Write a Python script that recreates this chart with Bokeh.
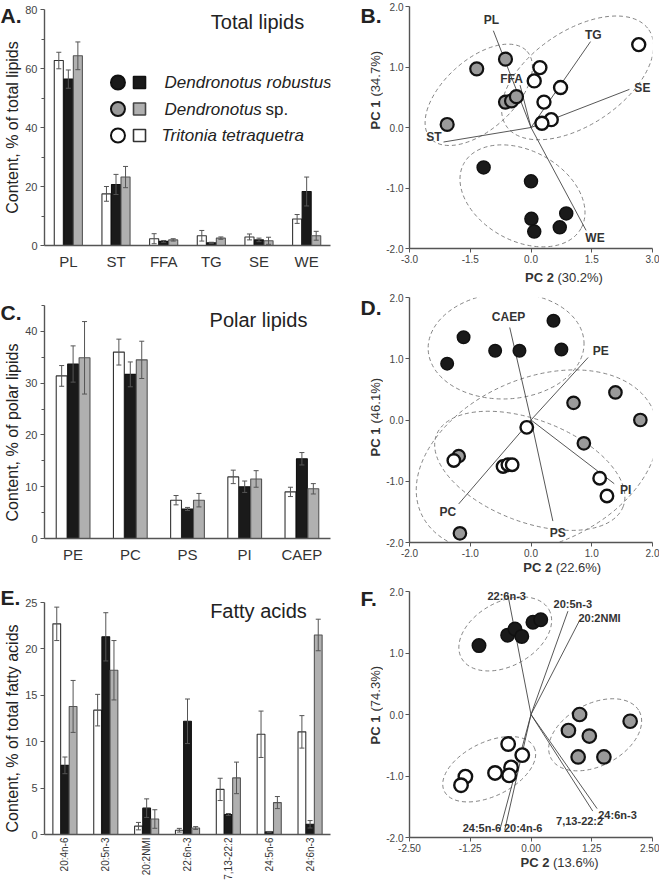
import math
import numpy as np
from bokeh.plotting import figure
from bokeh.models import (ColumnDataSource, Range1d, FactorRange, FixedTicker, Label,
                          Whisker, TeeHead, NumeralTickFormatter)
from bokeh.transform import dodge
from bokeh.layouts import row, column
from bokeh.embed import file_html
from bokeh.resources import INLINE
from bokeh.core.properties import value

FONT = "Liberation Sans"

# ---------------- Panel A: total lipids ----------------
tl_cats = ["PL", "ST", "FFA", "TG", "SE", "WE"]
tl_tt = [62.7, 17.5, 2.3, 3.3, 2.9, 9.0]
tl_tt_err = [2.8, 2.5, 1.7, 1.8, 1.0, 1.5]
tl_dr = [56.4, 20.7, 1.4, 0.9, 1.9, 18.3]
tl_dr_err = [3.1, 3.4, 0.3, 0.2, 0.6, 4.9]
tl_ds = [64.3, 23.2, 1.9, 2.5, 1.6, 3.3]
tl_ds_err = [4.7, 3.6, 0.4, 0.4, 1.2, 1.5]

# ---------------- Panel C: polar lipids ----------------
pl_cats = ["PE", "PC", "PS", "PI", "CAEP"]
pl_tt = [31.4, 36.0, 7.4, 11.9, 9.0]
pl_tt_err = [2.0, 2.5, 0.9, 1.3, 0.9]
pl_dr = [33.7, 31.7, 5.7, 10.0, 15.4]
pl_dr_err = [3.5, 2.4, 0.3, 1.1, 1.2]
pl_ds = [34.9, 34.5, 7.4, 11.5, 9.6]
pl_ds_err = [7.0, 3.6, 1.3, 1.6, 1.0]

# ---------------- Panel E: fatty acids ----------------
fa_cats = ["20:4n-6", "20:5n-3", "20:2NMI", "22:6n-3", "7,13-22:2", "24:5n-6", "24:6n-3"]
fa_tt = [22.7, 13.4, 0.9, 0.46, 4.86, 10.8, 11.06]
fa_tt_err = [1.8, 1.7, 0.4, 0.2, 1.2, 2.5, 1.75]
fa_dr = [7.45, 21.3, 2.84, 12.2, 2.16, 0.28, 1.1]
fa_dr_err = [0.9, 2.6, 1.0, 2.4, 0.1, 0.05, 0.4]
fa_ds = [13.8, 17.7, 1.67, 0.7, 6.1, 3.44, 21.5]
fa_ds_err = [2.8, 3.2, 1.0, 0.15, 1.7, 0.65, 1.7]

# ---------------- Panel B: PCA total lipids ----------------
b_dr_x = [-1.17, 0.00, 0.01, 0.08, 0.71, 0.87]
b_dr_y = [-0.66, -0.89, -1.51, -1.72, -1.65, -1.42]
b_ds_x = [-2.07, -1.34, -0.63, -0.63, -0.48, -0.36]
b_ds_y = [0.05, 0.97, 1.13, 0.42, 0.44, 0.51]
b_tt_x = [2.66, 0.22, 0.08, 0.73, 0.32, 0.50, 0.27]
b_tt_y = [1.37, 0.99, 0.77, 0.66, 0.42, 0.13, 0.07]
b_load_names = ["PL", "ST", "FFA", "TG", "SE", "WE"]
b_load_x = [-0.93, -2.16, -0.27, 1.47, 2.43, 1.36]
b_load_y = [1.60, -0.24, 0.70, 1.42, 0.63, -1.70]
b_lab_x = [-0.98, -2.40, -0.48, 1.54, 2.75, 1.58]
b_lab_y = [1.77, -0.15, 0.80, 1.53, 0.66, -1.83]

# ---------------- Panel D: PCA polar lipids ----------------
d_dr_x = [-1.38, -1.11, -0.59, -0.19, 0.37, 0.50]
d_dr_y = [0.92, 1.35, 1.13, 1.13, 1.62, 1.15]
d_ds_x = [0.70, 1.39, 1.80, 0.87, -1.19, -1.17]
d_ds_y = [0.28, 0.45, 0.00, -0.38, -0.59, -1.85]
d_tt_x = [-0.07, -1.27, -0.46, -0.38, -0.31, 1.13, 1.25]
d_tt_y = [-0.12, -0.66, -0.76, -0.73, -0.73, -0.95, -1.24]
d_load_names = ["CAEP", "PE", "PS", "PI", "PC"]
d_load_x = [-0.35, 0.94, 0.36, 1.37, -1.19]
d_load_y = [1.51, 1.02, -1.65, -1.04, -1.37]
d_lab_x = [-0.37, 1.15, 0.44, 1.56, -1.37]
d_lab_y = [1.68, 1.13, -1.85, -1.14, -1.51]

# ---------------- Panel F: PCA fatty acids ----------------
f_dr_x = [-1.07, -0.48, -0.33, -0.19, 0.04, 0.20]
f_dr_y = [1.12, 1.29, 1.39, 1.27, 1.50, 1.54]
f_ds_x = [1.00, 0.77, 1.20, 0.97, 1.50, 2.04]
f_ds_y = [0.00, -0.26, -0.35, -0.69, -0.69, -0.11]
f_tt_x = [-0.47, -0.18, -0.41, -0.45, -0.74, -1.35, -1.44]
f_tt_y = [-0.48, -0.66, -0.86, -0.99, -0.95, -1.01, -1.15]
f_load_names = ["22:6n-3", "20:5n-3", "20:2NMI", "24:5n-6", "20:4n-6", "7,13-22:2", "24:6n-3"]
f_load_x = [-0.48, 0.76, 1.00, -0.64, -0.54, 1.27, 1.36]
f_load_y = [1.96, 1.68, 1.53, -1.875, -1.875, -1.57, -1.53]
f_lab_x = [-0.50, 0.86, 1.41, -1.01, -0.16, 1.00, 1.78]
f_lab_y = [1.92, 1.79, 1.57, -1.85, -1.85, -1.73, -1.63]

# ---------------- styles ----------------
C_BLACK = "#1a1a1a"
C_GRAY_BAR = "#b0b0b0"
C_GRAY_PT = "#9a9a9a"
AX = "#555555"
TXT = "#333333"

LEFT_W, RIGHT_W = 326, 276


def label(p, x, y, text, size, style="normal", align="center", color="#222222"):
    p.add_layout(Label(x=x, y=y, x_units="screen", y_units="screen", text=text,
                       text_font=FONT, text_font_size=f"{size}px", text_font_style=style,
                       text_align=align, text_baseline="middle", text_color=color))


def strip(width, height, x0, x1, ytop, ybot):
    s = figure(width=width, height=height, x_range=Range1d(x0, x1),
               y_range=Range1d(ybot, ytop), output_backend="svg", toolbar_location=None,
               min_border=0, x_axis_location=None, y_axis_location=None)
    s.outline_line_color = None
    s.grid.visible = False
    s.background_fill_color = "white"
    s.border_fill_color = "white"
    return s


def stext(s, x, y, text, size, style="normal", align="center", angle=0.0,
          color="#222222"):
    s.text(x=[x], y=[y], text=[text], text_font=value(FONT),
           text_font_size=value(f"{size}px"), text_font_style=style, text_align=align,
           text_baseline="middle", angle=angle, text_color=color)


def style_common(p):
    p.xgrid.visible = False
    p.ygrid.visible = False
    p.outline_line_color = None
    p.background_fill_color = "white"
    p.border_fill_color = "white"
    for ax in (p.xaxis, p.yaxis):
        ax.axis_line_color = AX
        ax.axis_line_width = 1.4
        ax.major_tick_line_color = AX
        ax.minor_tick_line_color = AX
        ax.major_label_text_font = FONT
        ax.major_label_text_color = "#444444"


def bar_panel(cats, tt, tte, dr, dre, ds, dse, ymax, major, minor, height, top, bottom,
              right, cat_font, vertical=False):
    src = ColumnDataSource(dict(
        cat=cats, tt=tt, dr=dr, ds=ds,
        tt_up=np.add(tt, tte), tt_lo=np.subtract(tt, tte),
        dr_up=np.add(dr, dre), dr_lo=np.subtract(dr, dre),
        ds_up=np.add(ds, dse), ds_lo=np.subtract(ds, dse)))
    p = figure(x_range=FactorRange(*cats), y_range=Range1d(0, ymax),
               width=LEFT_W, height=height, output_backend="svg", toolbar_location=None,
               min_border_left=20, min_border_right=right, min_border_top=top,
               min_border_bottom=bottom)
    style_common(p)
    specs = [("tt", -0.2, "white", "#333333"), ("dr", 0.0, C_BLACK, "#111111"),
             ("ds", 0.2, C_GRAY_BAR, "#555555")]
    for key, off, fill, line in specs:
        p.vbar(x=dodge("cat", off, range=p.x_range), top=key, width=0.19, source=src,
               fill_color=fill, line_color=line, line_width=1.1)
    for key, off, fill, line in specs:
        w = Whisker(source=src, base=dodge("cat", off, range=p.x_range),
                    upper=f"{key}_up", lower=f"{key}_lo", line_color="#555555",
                    line_width=1,
                    upper_head=TeeHead(size=5, line_color="#555555", line_width=1),
                    lower_head=TeeHead(size=5, line_color="#555555", line_width=1))
        w.level = "overlay"
        p.add_layout(w)
    p.yaxis.ticker = FixedTicker(ticks=major, minor_ticks=minor)
    p.yaxis.major_tick_out = 4
    p.yaxis.major_tick_in = 0
    p.yaxis.minor_tick_out = 3
    p.yaxis.minor_tick_in = 0
    p.yaxis.major_label_text_font_size = "11px"
    p.yaxis.major_label_standoff = 3
    p.xaxis.major_tick_line_color = None
    p.xaxis.minor_tick_line_color = None
    p.xaxis.major_tick_out = 0
    p.xaxis.major_tick_in = 0
    p.xaxis.major_label_text_font_size = f"{cat_font}px"
    p.xaxis.major_label_text_color = TXT
    if vertical:
        p.xaxis.major_label_orientation = math.pi / 2
        p.xaxis.major_label_standoff = 3
    else:
        p.xaxis.major_label_standoff = 7
    return p


def pca_panel(height, top, bottom, xr, xticks, xfmt, dr, ds, tt, ellipses,
              loads, labs, names, lab_size, msize):
    p = figure(x_range=Range1d(*xr), y_range=Range1d(-2, 2), width=RIGHT_W, height=height,
               output_backend="svg", toolbar_location=None, min_border_left=24,
               min_border_right=RIGHT_W - 24 - 245, min_border_top=top,
               min_border_bottom=bottom)
    style_common(p)
    ex, ey, ew, eh, ea = ellipses
    p.ellipse(x=ex, y=ey, width=ew, height=eh, angle=ea, angle_units="deg",
              width_units="screen", height_units="screen", fill_color=None,
              line_color="#777777", line_width=0.9, line_dash="4 3")
    lx, ly = loads
    p.segment(x0=[0] * len(lx), y0=[0] * len(ly), x1=lx, y1=ly, line_color="#444444",
              line_width=0.9)
    p.scatter(dr[0], dr[1], size=msize, fill_color=C_BLACK, line_color="#111111",
              line_width=1.5)
    p.scatter(ds[0], ds[1], size=msize, fill_color=C_GRAY_PT, line_color="#111111",
              line_width=2.2)
    p.scatter(tt[0], tt[1], size=msize, fill_color="white", line_color="#111111",
              line_width=2.4)
    for n, x, y in zip(names, labs[0], labs[1]):
        p.add_layout(Label(x=x, y=y, text=n, text_font=FONT,
                           text_font_size=f"{lab_size}px", text_font_style="bold",
                           text_align="center", text_baseline="middle", text_color=TXT))
    p.xaxis.ticker = FixedTicker(ticks=xticks)
    p.yaxis.ticker = FixedTicker(ticks=[-2, -1, 0, 1, 2])
    p.xaxis.formatter = NumeralTickFormatter(format=xfmt)
    p.yaxis.formatter = NumeralTickFormatter(format="0.0")
    for ax in (p.xaxis, p.yaxis):
        ax.major_tick_out = 4
        ax.major_tick_in = 0
        ax.minor_tick_line_color = None
        ax.major_label_text_font_size = "10px"
        ax.major_label_standoff = 2
    return p


# ---------------- bar panels ----------------
pA = bar_panel(tl_cats, tl_tt, tl_tt_err, tl_dr, tl_dr_err, tl_ds, tl_ds_err, 80,
               [0, 20, 40, 60, 80], [10, 30, 50, 70], 290, 9, 45, 14, 15)
label(pA, 213, 224, "Total lipids", 20)
leg_rows = [163, 136.5, 110]
leg_fill_pt = [C_BLACK, C_GRAY_PT, "white"]
leg_fill_sq = [C_BLACK, C_GRAY_BAR, "white"]
leg_line_sq = ["#111111", "#444444", "#333333"]
px_x, px_y = 292 / 6, 236 / 80
pA.scatter([75 / px_x] * 3, [r / px_y for r in leg_rows], size=14, marker="circle",
           fill_color=leg_fill_pt, line_color="#111111", line_width=2)
pA.scatter([97 / px_x] * 3, [r / px_y for r in leg_rows], size=12, marker="square",
           fill_color=leg_fill_sq, line_color=leg_line_sq, line_width=1.6)
label(pA, 120, leg_rows[0], "Dendronotus robustus", 17, style="italic", align="left")
label(pA, 120, leg_rows[1], "Dendronotus", 17, style="italic", align="left")
label(pA, 221, leg_rows[1], "sp.", 17, align="left")
label(pA, 117, leg_rows[2], "Tritonia tetraquetra", 17, style="italic", align="left")

pC = bar_panel(pl_cats, pl_tt, pl_tt_err, pl_dr, pl_dr_err, pl_ds, pl_ds_err, 45,
               [0, 10, 20, 30, 40], [5, 15, 25, 35, 45], 290, 15, 42, 18, 15)
label(pC, 214, 219, "Polar lipids", 20)

pE = bar_panel(fa_cats, fa_tt, fa_tt_err, fa_dr, fa_dr_err, fa_ds, fa_ds_err, 25,
               [0, 5, 10, 15, 20, 25], [], 302, 22, 45, 8, 10, vertical=True)
label(pE, 214, 224, "Fatty acids", 20)

# ---------------- PCA panels ----------------
pB = pca_panel(268, 6, 20, (-3, 3), [-3, -1.5, 0, 1.5, 3], "0.0",
               (b_dr_x, b_dr_y), (b_ds_x, b_ds_y), (b_tt_x, b_tt_y),
               ([-1.29, 1.15, -0.21], [0.54, 0.82, -1.13], [130, 172, 134],
                [70, 94, 90], [42, 34, -29]),
               (b_load_x, b_load_y), (b_lab_x, b_lab_y), b_load_names, 12, 13)

pD = pca_panel(270, 7, 18, (-2, 2), [-2, -1, 0, 1, 2], "0.0",
               (d_dr_x, d_dr_y), (d_ds_x, d_ds_y), (d_tt_x, d_tt_y),
               ([-0.41, 0.10, -0.02], [1.21, -0.68, -0.83], [156, 254, 200],
                [106, 166, 102], [3, 24, -21]),
               (d_load_x, d_load_y), (d_lab_x, d_lab_y), d_load_names, 12, 12.5)

pF = pca_panel(275, 11, 18, (-2.5, 2.5), [-2.5, -1.25, 0, 1.25, 2.5], "0.00",
               (f_dr_x, f_dr_y), (f_ds_x, f_ds_y), (f_tt_x, f_tt_y),
               ([-0.53, -0.86, 1.32], [1.31, -0.89, -0.33], [100, 100, 100],
                [64, 54, 62], [29, 26, 28]),
               (f_load_x, f_load_y), (f_lab_x, f_lab_y), f_load_names, 11, 13.5)

# ---------------- text strips (page pixel coordinates) ----------------
TOTAL_H = 882
sL = strip(22, TOTAL_H, 0, 22, 0, TOTAL_H)
for t, y in (("A.", 15), ("C.", 312), ("E.", 597)):
    stext(sL, 0, y, t, 21, style="bold", align="left")
for t, y in (("Content, % of total lipids", 127), ("Content, % of polar lipids", 432),
             ("Content, % of total fatty acids", 728)):
    stext(sL, 12, y, t, 16, angle=math.pi / 2)

sM = strip(35, TOTAL_H, 348, 383, 0, TOTAL_H)
for t, y in (("B.", 15), ("D.", 307), ("F.", 598)):
    stext(sM, 360, y, t, 21, style="bold", align="left")
for pc, y in (("(34.7%)", 98), ("(46.1%)", 425), ("(74.3%)", 713)):
    stext(sM, 375, y + 2, "PC 1", 13, style="bold", align="right", angle=math.pi / 2,
          color=TXT)
    stext(sM, 375, y - 2, pc, 13, align="left", angle=math.pi / 2, color=TXT)


def xtitle(y0, y1, ymid, xj, pc):
    s = strip(RIGHT_W, y1 - y0, 383, 383 + RIGHT_W, y0, y1)
    stext(s, xj - 2, ymid, "PC 2", 13, style="bold", align="right", color=TXT)
    stext(s, xj + 2, ymid, pc, 13, align="left", color=TXT)
    return s


xB = xtitle(268, 290, 277, 549, "(30.2%)")
xD = xtitle(560, 580, 567, 547, "(22.6%)")
xF = xtitle(855, TOTAL_H, 862, 544, "(13.6%)")

layout = row(sL, column(pA, pC, pE), sM, column(pB, xB, pD, xD, pF, xF))
open("out.html", "w").write(file_html(layout, INLINE))
